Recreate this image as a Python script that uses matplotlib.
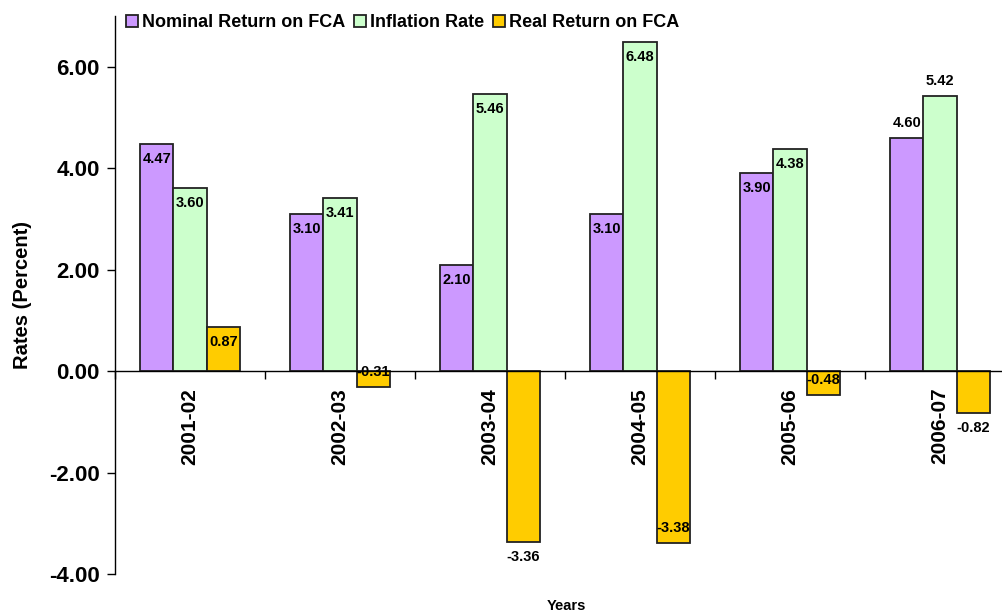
import numpy as np
import matplotlib
matplotlib.use("Agg")
import matplotlib.pyplot as plt

plt.rcParams['font.family'] = ['Liberation Sans', 'DejaVu Sans']

years = ['2001-02', '2002-03', '2003-04', '2004-05', '2005-06', '2006-07']
nominal = [4.47, 3.10, 2.10, 3.10, 3.90, 4.60]
inflation = [3.60, 3.41, 5.46, 6.48, 4.38, 5.42]
real = [0.87, -0.31, -3.36, -3.38, -0.48, -0.82]

series_names = ['Nominal Return on FCA', 'Inflation Rate', 'Real Return on FCA']
colors = ['#CC99FF', '#CCFFCC', '#FFCC00']
# labels placed outside the bar end (series index, year index)
outside_labels = {(0, 5), (1, 5), (2, 2), (2, 5)}

W, H = 1002, 614
fig = plt.figure(figsize=(W / 100, H / 100), dpi=100)
ax = fig.add_axes([115 / W, (H - 574) / H, 900 / W, 558 / H])

x = np.arange(len(years))
bw = 2 / 9
for s, (name, vals, col) in enumerate(zip(series_names, [nominal, inflation, real], colors)):
    pos = x + (s - 1) * bw
    ax.bar(pos, vals, bw, color=col, edgecolor='#222222', linewidth=1.3, label=name, zorder=2)
    for i, (p, v) in enumerate(zip(pos, vals)):
        sign = 1 if v >= 0 else -1
        off = 15 if (s, i) in outside_labels else -15
        ax.annotate(f'{v:.2f}', (p, v), xytext=(0, sign * off * 0.72), textcoords='offset points',
                    ha='center', va='center', fontsize=10.5, fontweight='bold', zorder=3)

ax.set_xlim(-0.5, len(years) - 0.5)
ax.set_ylim(-4, 7)
ax.set_yticks([-4, -2, 0, 2, 4, 6])
ax.set_yticklabels([f'{t:.2f}' for t in [-4, -2, 0, 2, 4, 6]], fontsize=16, fontweight='bold')
ax.tick_params(axis='y', length=6, width=1, direction='out', pad=5)

ax.spines['top'].set_visible(False)
ax.spines['right'].set_visible(False)
ax.spines['bottom'].set_position(('data', 0))
ax.spines['bottom'].set_linewidth(1)
ax.spines['left'].set_linewidth(1)

ax.set_xticks(np.arange(len(years) + 1) - 0.5)
ax.set_xticklabels([])
ax.tick_params(axis='x', length=6, width=1, direction='out')

for i, yr in enumerate(years):
    ax.annotate(yr, (i, 0), xytext=(0, -12), textcoords='offset points', rotation=90,
                ha='center', va='top', fontsize=15, fontweight='bold')

ax.set_ylabel('Rates (Percent)', fontsize=14.5, fontweight='bold')
ax.yaxis.set_label_coords(-0.092, 0.5)
fig.text(566 / W, 1 - 606 / H, 'Years', ha='center', va='center', fontsize=10.5, fontweight='bold')

fig.legend(loc='upper left', bbox_to_anchor=(126 / W, 1 - 14 / H), ncol=3, frameon=False,
           prop={'size': 13, 'weight': 'bold'}, handlelength=0.67, handleheight=0.67,
           handletextpad=0.2, columnspacing=0.5, borderaxespad=0, borderpad=0)

fig.savefig('out.png', dpi=100)
